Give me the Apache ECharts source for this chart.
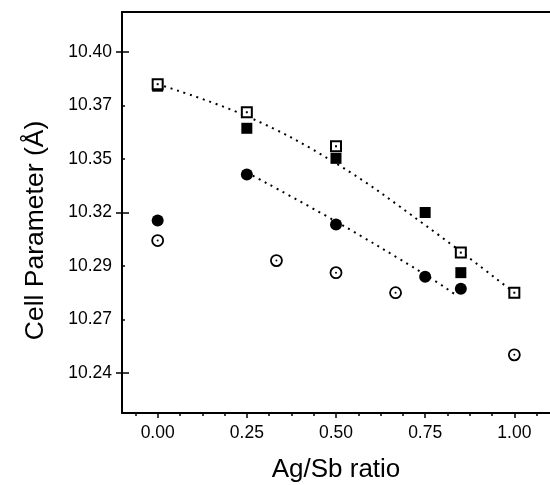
<!DOCTYPE html>
<html>
<head>
<meta charset="utf-8">
<script src="https://cdn.jsdelivr.net/npm/echarts@6/dist/echarts.min.js"></script>
<style>html,body{margin:0;padding:0;background:#fff}#c{width:550px;height:485px}</style>
</head>
<body>
<div id="c"></div>
<script>
// ---- data ----
const openSqX = [0, 0.25, 0.5, 0.85, 1.0];
const openSqY = [10.384, 10.370, 10.353, 10.300, 10.280];
const fillSqX = [0, 0.25, 0.5, 0.75, 0.85];
const fillSqY = [10.383, 10.362, 10.347, 10.320, 10.290];
const fillCiX = [0, 0.25, 0.5, 0.75, 0.85];
const fillCiY = [10.316, 10.339, 10.314, 10.288, 10.282];
const openCiX = [0, 0.333, 0.5, 0.667, 1.0];
const openCiY = [10.306, 10.296, 10.290, 10.280, 10.249];
// dotted guide curves
const upperFitX = [0, 0.25, 0.5, 0.75, 1.0];
const upperFitY = [10.384, 10.368, 10.3445, 10.3137, 10.280];
const lowerFitX = [0.25, 0.5, 0.75, 0.835];
const lowerFitY = [10.340, 10.3155, 10.289, 10.279];
// axis ticks
const xMajorTicks = [0, 0.25, 0.5, 0.75, 1.0];
const xMinorTicks = [-0.0625, 0.0625, 0.125, 0.1875, 0.3125, 0.375, 0.4375, 0.5625, 0.625, 0.6875, 0.8125, 0.875, 0.9375, 1.0625];
const yLabelTicks = [10.24, 10.24 + 0.08/3, 10.24 + 0.16/3, 10.32, 10.32 + 0.08/3, 10.32 + 0.16/3, 10.40];
const yMajorTicks = [10.24, 10.32, 10.40];
const yMinorTicks = [10.24 + 0.08/3, 10.24 + 0.16/3, 10.32 + 0.08/3, 10.32 + 0.16/3];

const pairs = (xs, ys) => xs.map((x, i) => [x, ys[i]]);
const FONT = 'Liberation Sans';
const X_MIN = -0.1, X_MAX = 1.1, Y_MIN = 10.22, Y_MAX = 10.42;

const chart = echarts.init(document.getElementById('c'), null, {renderer: 'canvas'});

const baseX = {type: 'value', min: X_MIN, max: X_MAX, splitLine: {show: false}};
const baseY = {type: 'value', min: Y_MIN, max: Y_MAX, splitLine: {show: false}};

const dotted = {color: '#000', width: 2, type: [2, 4.8], opacity: 1};

chart.setOption({
  animation: false,
  backgroundColor: '#fff',
  grid: {left: 122, top: 12, right: 0, bottom: 72, containLabel: false, outerBoundsMode: 'none'},
  xAxis: [
    Object.assign({}, baseX, {
      position: 'bottom',
      name: 'Ag/Sb ratio', nameLocation: 'middle', nameGap: 44,
      nameTextStyle: {fontFamily: FONT, fontSize: 26, color: '#000'},
      axisLine: {show: true, onZero: false, lineStyle: {color: '#000', width: 2}},
      axisTick: {show: true, inside: false, length: 5, customValues: xMajorTicks, lineStyle: {color: '#000', width: 1.5}},
      axisLabel: {show: true, margin: 11, customValues: xMajorTicks, fontFamily: FONT, fontSize: 17.5, color: '#000',
                  formatter: v => v.toFixed(2)}
    }),
    Object.assign({}, baseX, {
      position: 'bottom',
      axisLine: {show: false, onZero: false},
      axisTick: {show: true, inside: false, length: 3, customValues: xMinorTicks, lineStyle: {color: '#000', width: 1.5}},
      axisLabel: {show: false}
    }),
    Object.assign({}, baseX, {
      position: 'top',
      axisLine: {show: true, onZero: false, lineStyle: {color: '#000', width: 2}},
      axisTick: {show: false},
      axisLabel: {show: false}
    })
  ],
  yAxis: [
    Object.assign({}, baseY, {
      position: 'left',
      name: 'Cell Parameter (Å)', nameLocation: 'middle', nameGap: 73,
      nameTextStyle: {fontFamily: FONT, fontSize: 26.5, color: '#000', padding: [0, 36, 0, 0]},
      axisLine: {show: true, onZero: false, lineStyle: {color: '#000', width: 2}},
      axisTick: {show: true, inside: true, length: 3, customValues: yMinorTicks, lineStyle: {color: '#000', width: 1.5}},
      axisLabel: {show: true, margin: 10, customValues: yLabelTicks, fontFamily: FONT, fontSize: 17.5, color: '#000',
                  formatter: v => v.toFixed(2)}
    }),
    Object.assign({}, baseY, {
      position: 'left',
      axisLine: {show: false, onZero: false},
      axisTick: {show: true, inside: true, length: 7, customValues: yMajorTicks, lineStyle: {color: '#000', width: 1.5}},
      axisLabel: {show: false}
    }),
    Object.assign({}, baseY, {
      position: 'left',
      axisLine: {show: false, onZero: false},
      axisTick: {show: true, inside: false, length: 6, customValues: yMajorTicks, lineStyle: {color: '#000', width: 1.5}},
      axisLabel: {show: false}
    })
  ],
  series: [
    {type: 'line', name: 'upper fit', data: pairs(upperFitX, upperFitY), smooth: 0.4, showSymbol: false,
     symbol: 'none', lineStyle: dotted, z: 1, silent: true},
    {type: 'line', name: 'lower fit', data: pairs(lowerFitX, lowerFitY), smooth: 0.4, showSymbol: false,
     symbol: 'none', lineStyle: dotted, z: 1, silent: true},
    {type: 'scatter', name: 'filled circles', data: pairs(fillCiX, fillCiY), symbol: 'circle', symbolSize: 12,
     itemStyle: {color: '#000', opacity: 1}, z: 3},
    {type: 'scatter', name: 'open circles', data: pairs(openCiX, openCiY), symbol: 'circle', symbolSize: 11,
     itemStyle: {color: '#fff', borderColor: '#000', borderWidth: 1.8, opacity: 1}, z: 3},
    {type: 'scatter', name: 'open circle centres', data: pairs(openCiX, openCiY), symbol: 'circle', symbolSize: 2,
     itemStyle: {color: '#000', opacity: 1}, z: 4},
    {type: 'scatter', name: 'filled squares', data: pairs(fillSqX, fillSqY), symbol: 'rect', symbolSize: 11,
     itemStyle: {color: '#000', opacity: 1}, z: 3},
    {type: 'scatter', name: 'open squares', data: pairs(openSqX, openSqY), symbol: 'rect', symbolSize: 10,
     itemStyle: {color: '#fff', borderColor: '#000', borderWidth: 2, opacity: 1}, z: 5},
    {type: 'scatter', name: 'open square centres', data: pairs(openSqX, openSqY), symbol: 'rect', symbolSize: 2,
     itemStyle: {color: '#000', opacity: 1}, z: 6}
  ]
});
</script>
</body>
</html>
